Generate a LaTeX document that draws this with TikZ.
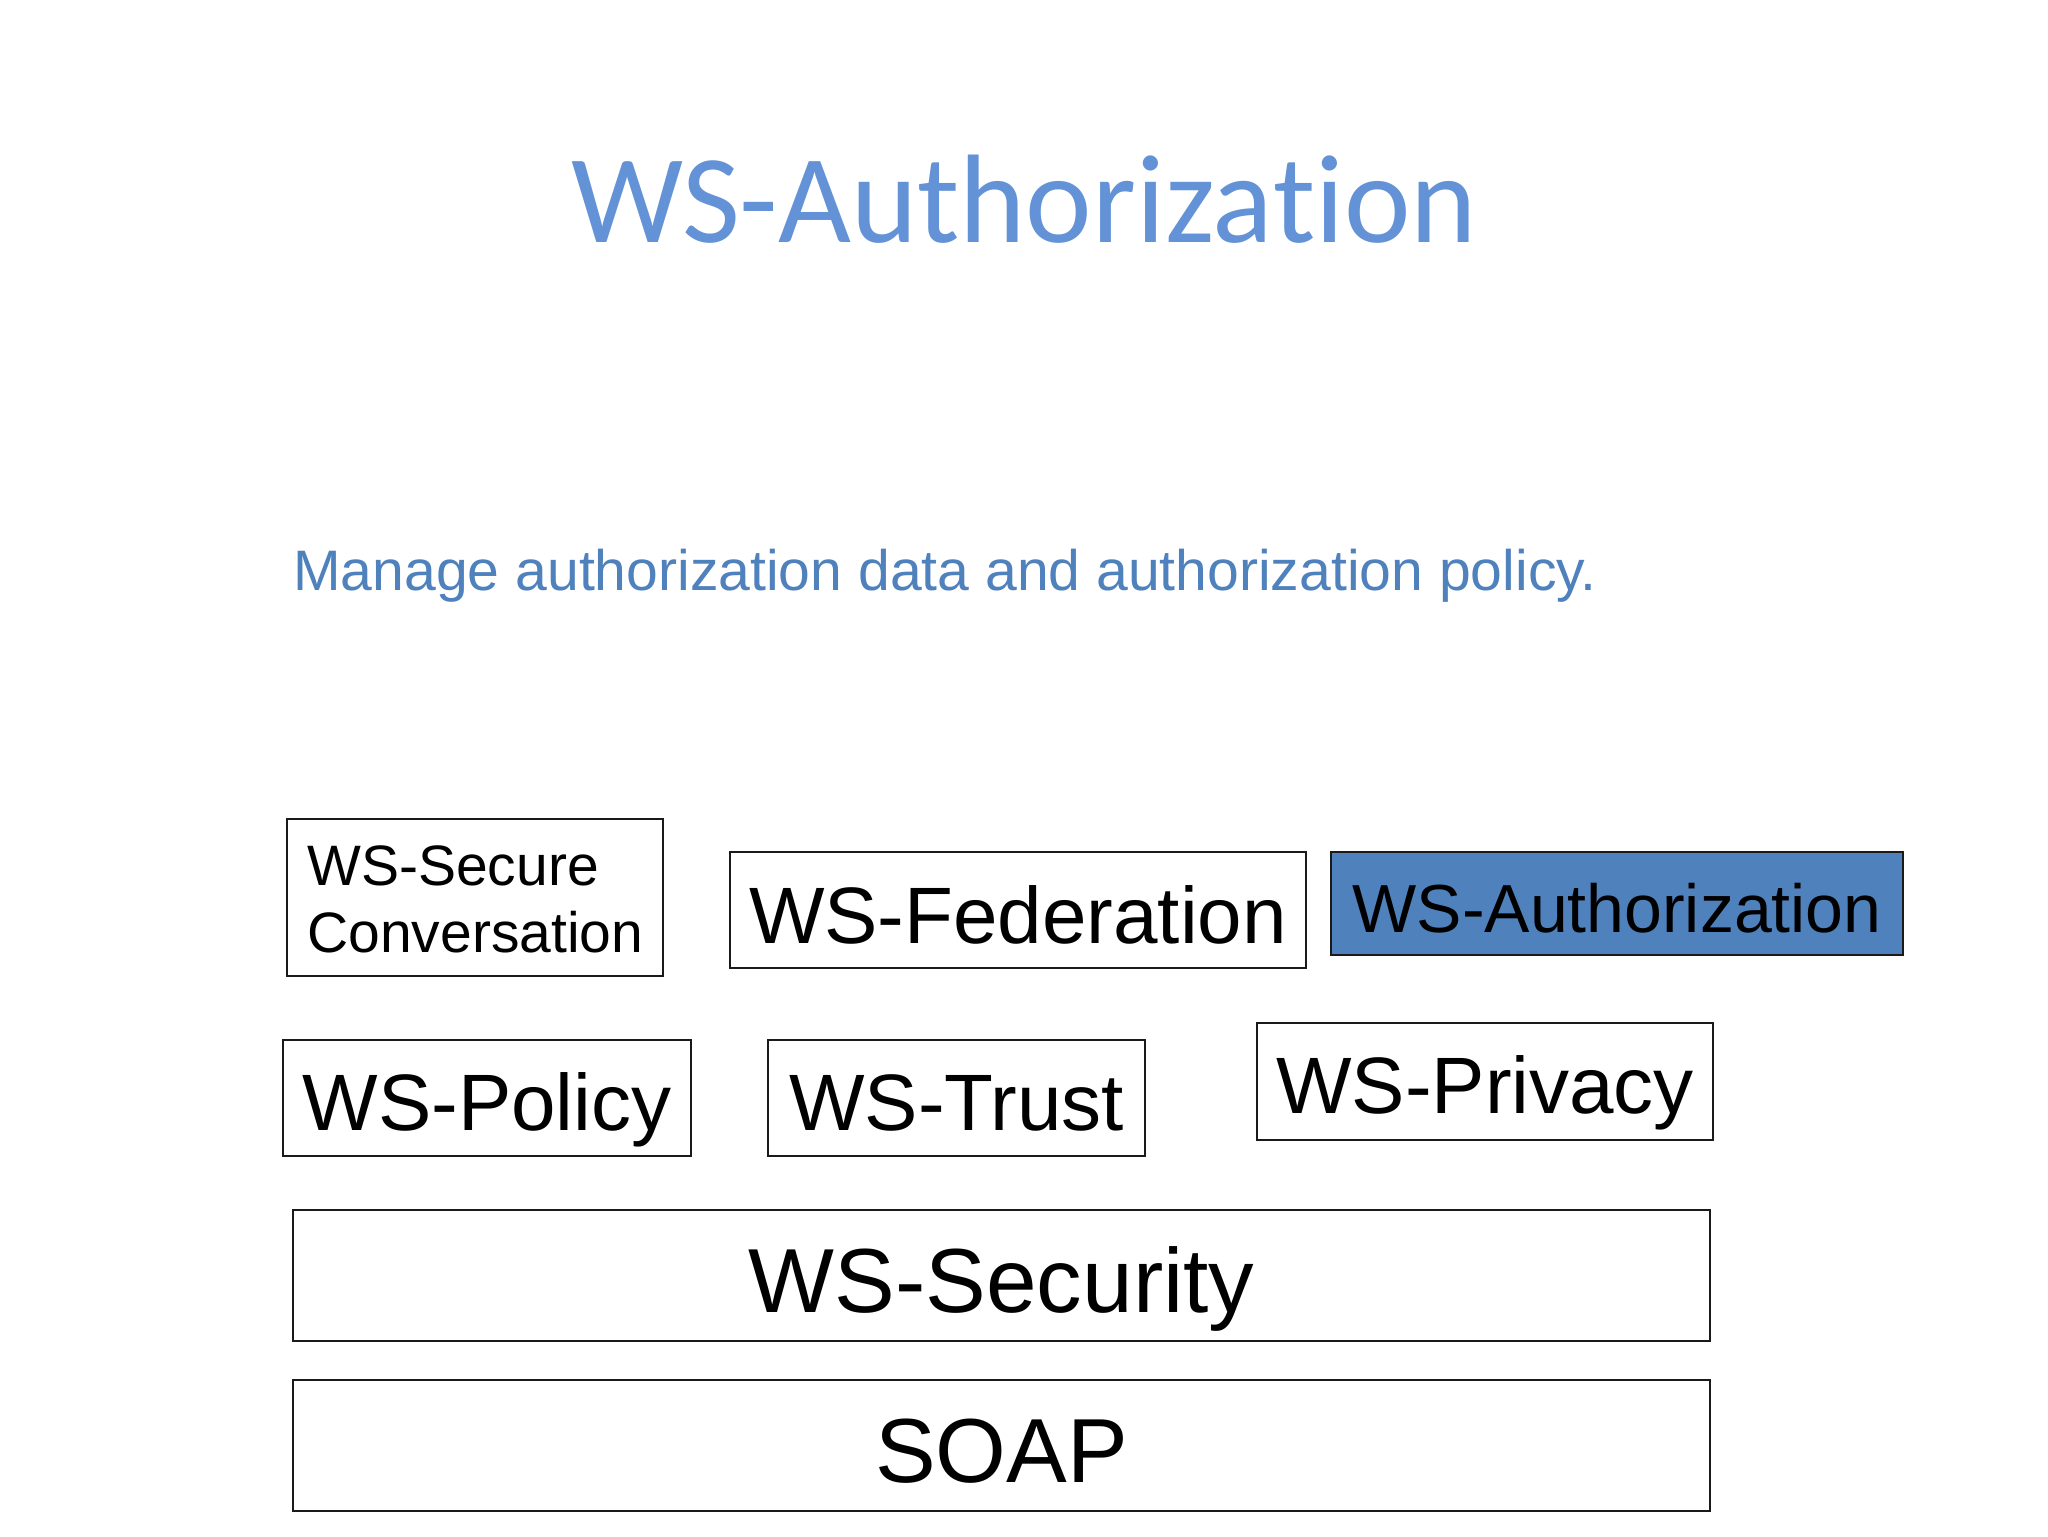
\documentclass[tikz,border=0pt]{standalone}
\usepackage{fontspec}
\setmainfont{Liberation Sans}
\newfontfamily\titlefont{Carlito}[Ligatures=NoCommon]
\definecolor{titleblue}{HTML}{6393D6}
\definecolor{subblue}{HTML}{4F81BD}
\definecolor{fillblue}{HTML}{4F81BD}
\definecolor{edgegray}{HTML}{1A1A1A}
\begin{document}
\begin{tikzpicture}[x=0.5pt,y=-0.5pt,
  box/.style={draw=edgegray, line width=1pt, inner sep=0pt, fill=white, text=black, text depth=0pt},
  bigtext/.style={font=\fontsize{40}{48}\selectfont},
  hugetext/.style={font=\fontsize{45.5}{54}\selectfont}]
\useasboundingbox (0,0) rectangle (2048,1536);
\fill[white] (0,0) rectangle (2048,1536);

% title and subtitle
\node[anchor=base, inner sep=0pt, font=\titlefont\fontsize{63}{75}\selectfont, text=titleblue] (title) at (1024,242) {WS-Authoriza\kern0pt tion};
\node[anchor=base west, inner sep=0pt, font=\fontsize{28.55}{34}\selectfont, text=subblue] (subtitle) at (293,590) {Manage authorization data and authorization policy.};

% top row
\node[box, minimum width=188pt, minimum height=78.5pt] (sc) at (475,897.5) {};
\node[anchor=base west, inner sep=0pt, font=\fontsize{28.5}{34}\selectfont] (scA) at (307,885) {WS-Secure};
\node[anchor=base west, inner sep=0pt, font=\fontsize{28.5}{34}\selectfont] (scB) at (307,952) {Conversation};

\node[box, bigtext, minimum width=288pt, minimum height=58pt, text height=33pt] (fed) at (1018,910) {WS-Federation};
\node[box, fill=fillblue, font=\fontsize{34}{40}\selectfont, minimum width=286pt, minimum height=51.5pt, text height=28.5pt] (auth) at (1617,903.5) {WS-Authorization};

% middle row
\node[box, bigtext, minimum width=204pt, minimum height=58pt, text height=32pt] (policy) at (487,1098) {WS-Policy};
\node[box, bigtext, minimum width=188.5pt, minimum height=58pt, text height=32pt] (trust) at (956.5,1098) {WS-Trust};
\node[box, bigtext, minimum width=228pt, minimum height=58.5pt, text height=31.5pt] (privacy) at (1485,1081.5) {WS-Privacy};

% bottom layers
\node[box, hugetext, minimum width=708.5pt, minimum height=65.5pt, text height=36.5pt] (security) at (1001.5,1275.5) {WS-Security};
\node[box, hugetext, minimum width=708.5pt, minimum height=65.5pt, text height=36.5pt] (soap) at (1001.5,1445.5) {SOAP};
\end{tikzpicture}
\end{document}
